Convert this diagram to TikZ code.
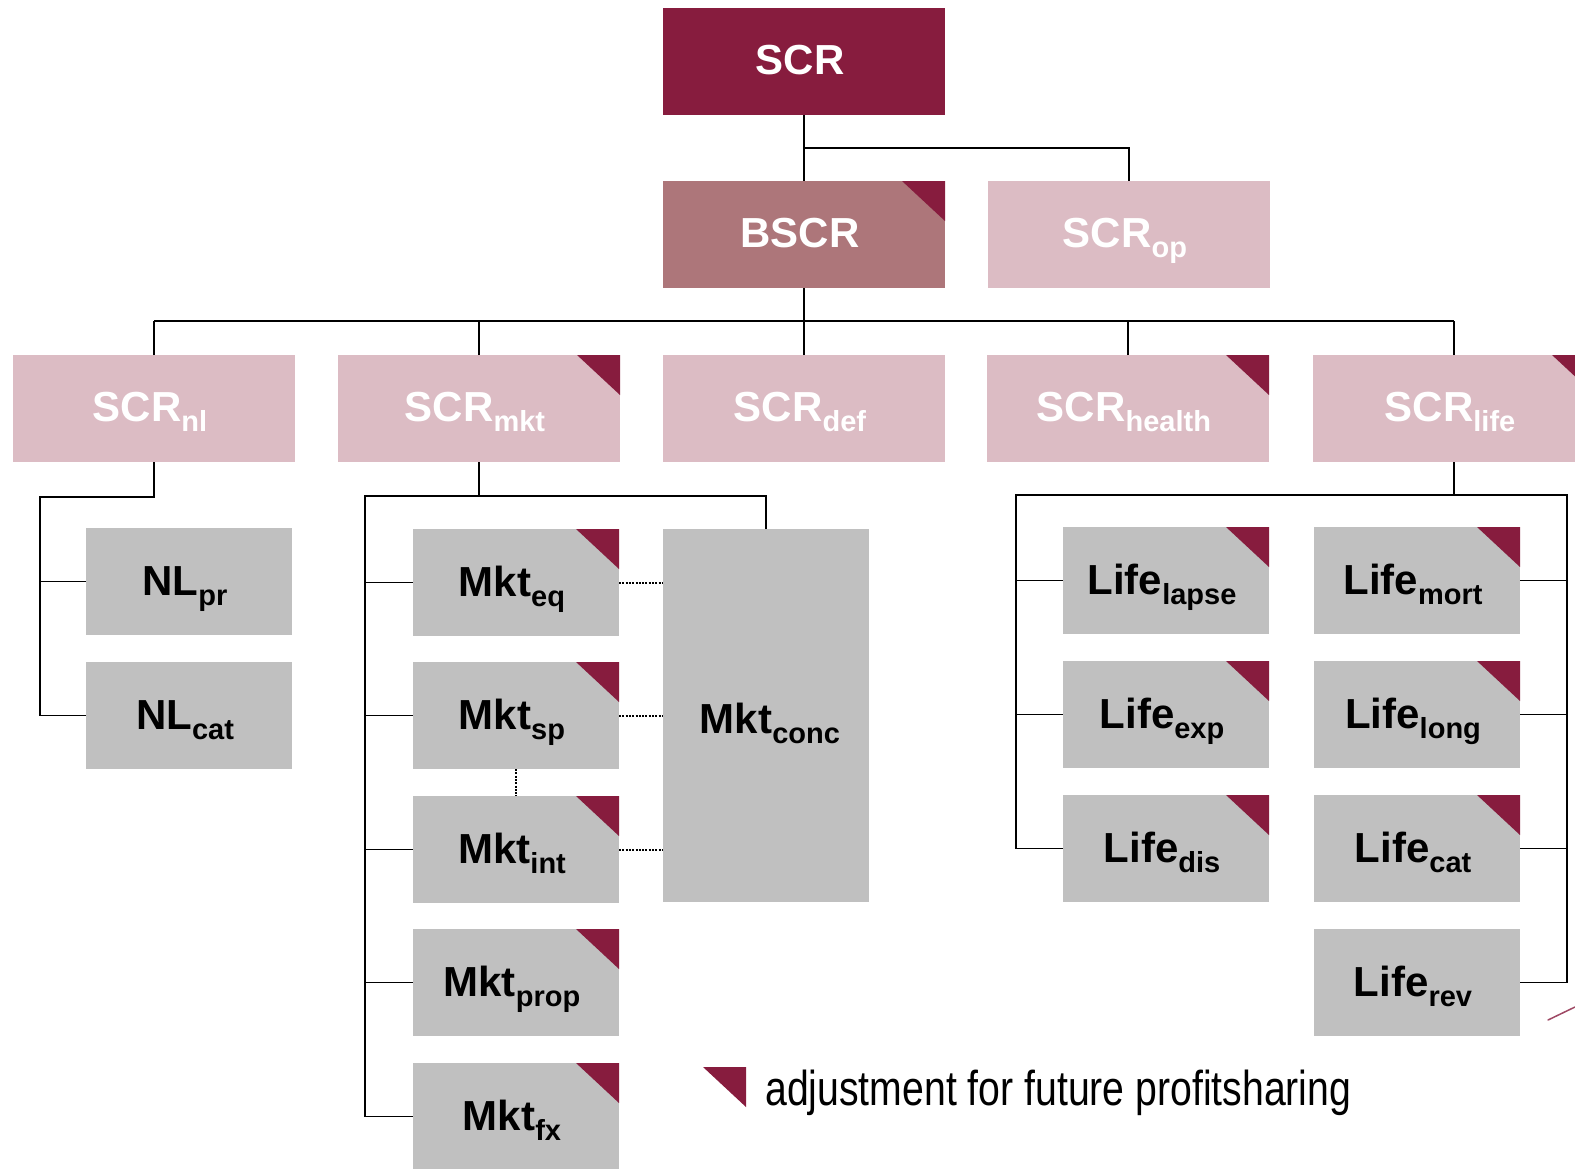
\documentclass[tikz,border=0pt]{standalone}
\usepackage{fontspec}
\setmainfont{Liberation Sans}
\newfontfamily\legendfont[FakeStretch=0.8]{Liberation Sans}
\usetikzlibrary{calc}
\definecolor{scrdark}{RGB}{135,28,62}
\definecolor{bscrcol}{RGB}{173,118,122}
\definecolor{lightpink}{RGB}{220,188,196}
\definecolor{greybox}{RGB}{192,192,192}
\newcommand{\mysub}[1]{\raisebox{-10pt}{\fontsize{29}{29}\selectfont #1}}
\newcommand{\corner}[1]{\fill[scrdark] (#1.north east) -- ($(#1.north east)+(-43,0)$) -- ($(#1.north east)+(0,40)$) -- cycle;}
\tikzset{
  bigbox/.style={rectangle, inner sep=0pt, outer sep=0pt, minimum width=282pt, minimum height=107pt,
    anchor=north west, text height=35pt, text depth=10pt, text=white,
    font=\fontsize{42}{42}\selectfont\bfseries, execute at end node={\hspace{8pt}}},
  greyb/.style={rectangle, inner sep=0pt, outer sep=0pt, minimum width=206pt, minimum height=107pt,
    anchor=north west, text height=35pt, text depth=8pt, text=black, fill=greybox,
    font=\fontsize{42}{42}\selectfont\bfseries, execute at end node={\hspace{8pt}}},
  conn/.style={draw=black, line width=1.8pt},
  dotl/.style={draw=black, line width=2pt, dash pattern=on 2pt off 1.3pt}
}
\begin{document}
\begin{tikzpicture}[x=1pt,y=-1pt]
\useasboundingbox (0,0) rectangle (1575,1168);
\clip (0,0) rectangle (1575,1168);
% top
\node[bigbox, fill=scrdark] (scr) at (663,8) {SCR};
\node[bigbox, fill=bscrcol] (bscr) at (663,181) {BSCR};
\node[bigbox, fill=lightpink] (op) at (988,181) {SCR\mysub{op}};
% row 3
\node[bigbox, fill=lightpink] (nl) at (13,355) {SCR\mysub{nl}};
\node[bigbox, fill=lightpink] (mkt) at (338,355) {SCR\mysub{mkt}};
\node[bigbox, fill=lightpink] (def) at (663,355) {SCR\mysub{def}};
\node[bigbox, fill=lightpink] (health) at (987,355) {SCR\mysub{health}};
\node[bigbox, fill=lightpink] (life) at (1313,355) {SCR\mysub{life}};
% NL
\node[greyb] (nlpr) at (86,528) {NL\mysub{pr}};
\node[greyb] (nlcat) at (86,662) {NL\mysub{cat}};
% Mkt
\node[greyb] (mkteq) at (413,529) {Mkt\mysub{eq}};
\node[greyb] (mktsp) at (413,662) {Mkt\mysub{sp}};
\node[greyb] (mktint) at (413,796) {Mkt\mysub{int}};
\node[greyb] (mktprop) at (413,929) {Mkt\mysub{prop}};
\node[greyb] (mktfx) at (413,1063) {Mkt\mysub{fx}};
\node[greyb, minimum height=373pt, text height=40pt, text depth=5pt, execute at end node={\hspace{-16pt}}] (mktconc) at (663,529) {Mkt\mysub{conc}};
% Life
\node[greyb] (lifelapse) at (1063,527) {Life\mysub{lapse}};
\node[greyb] (lifeexp) at (1063,661) {Life\mysub{exp}};
\node[greyb] (lifedis) at (1063,795) {Life\mysub{dis}};
\node[greyb] (lifemort) at (1314,527) {Life\mysub{mort}};
\node[greyb] (lifelong) at (1314,661) {Life\mysub{long}};
\node[greyb] (lifecat) at (1314,795) {Life\mysub{cat}};
\node[greyb] (liferev) at (1314,929) {Life\mysub{rev}};
% corner triangles
\corner{bscr}
\corner{mkt}
\corner{health}
\corner{life}
\corner{mkteq}
\corner{mktsp}
\corner{mktint}
\corner{mktprop}
\corner{mktfx}
\corner{lifelapse}
\corner{lifeexp}
\corner{lifedis}
\corner{lifemort}
\corner{lifelong}
\corner{lifecat}
% connectors top
\coordinate (bus1) at (scr.south |- 0,148);
\draw[conn] (scr.south) -- (bscr.north);
\draw[conn] (bus1) -| (op.north);
\coordinate (bus2) at (bscr.south |- 0,321);
\draw[conn] (bscr.south) -- (bus2);
\draw[conn] (nl.north |- bus2) -- (life.north |- bus2);
\foreach \n in {nl,mkt,def,health,life} \draw[conn] (\n.north) -- (\n.north |- bus2);
% NL
\coordinate (nlbus) at (40,497);
\draw[conn] (nl.south) |- (nlbus) -- (nlbus |- nlcat.west) -- (nlcat.west);
\draw[conn] (nlbus |- nlpr.west) -- (nlpr.west);
% Mkt
\coordinate (mktL) at (365,496);
\coordinate (mktR) at (mktconc.north |- mktL);
\draw[conn] (mkt.south) -- (mkt.south |- mktL);
\draw[conn] (mktconc.north) -- (mktR) -- (mktL) -- (mktL |- mktfx.west) -- (mktfx.west);
\foreach \n in {mkteq,mktsp,mktint,mktprop} \draw[conn] (mktL |- \n.west) -- (\n.west);
\foreach \n in {mkteq,mktsp,mktint} \draw[dotl] (\n.east) -- (\n.east -| mktconc.west);
\draw[dotl] (mktsp.south) -- (mktint.north);
% Life
\coordinate (lifeL) at (1016,495);
\coordinate (lifeR) at (1567,495);
\draw[conn] (life.south) -- (life.south |- lifeL);
\draw[conn] (lifedis.west) -- (lifeL |- lifedis.west) -- (lifeL) -- (lifeR) -- (lifeR |- liferev.east) -- (liferev.east);
\foreach \n in {lifelapse,lifeexp} \draw[conn] (lifeL |- \n.west) -- (\n.west);
\foreach \n in {lifemort,lifelong,lifecat} \draw[conn] (lifeR |- \n.east) -- (\n.east);
% legend
\node[anchor=base west, inner sep=0pt, font=\legendfont\fontsize{49}{49}\selectfont] (legend) at (765,1105) {adjustment for future profitsharing};
\fill[scrdark] (703,1067) -- (746,1067) -- (746,1107) -- cycle;
% cut-off stroke at bottom right
\draw[scrdark!80, line width=1.5pt, line cap=round] (1548,1020) -- (1575,1007);
\end{tikzpicture}
\end{document}
